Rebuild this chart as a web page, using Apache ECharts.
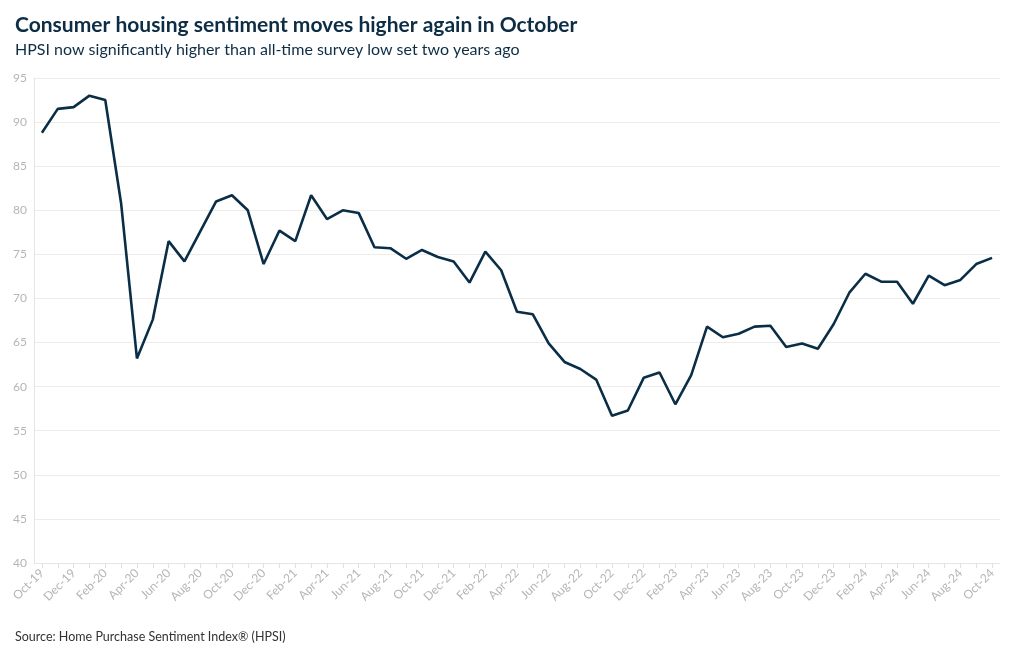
<!DOCTYPE html>
<html><head><meta charset="utf-8">
<script src="https://cdn.jsdelivr.net/npm/echarts@6/dist/echarts.min.js"></script>
<style>html,body{margin:0;padding:0;background:#fff}#c{width:1020px;height:650px}</style>
</head><body><div id="c"></div>
<script>
const categories = ["Oct-19","Nov-19","Dec-19","Jan-20","Feb-20","Mar-20","Apr-20","May-20","Jun-20","Jul-20","Aug-20","Sep-20","Oct-20","Nov-20","Dec-20","Jan-21","Feb-21","Mar-21","Apr-21","May-21","Jun-21","Jul-21","Aug-21","Sep-21","Oct-21","Nov-21","Dec-21","Jan-22","Feb-22","Mar-22","Apr-22","May-22","Jun-22","Jul-22","Aug-22","Sep-22","Oct-22","Nov-22","Dec-22","Jan-23","Feb-23","Mar-23","Apr-23","May-23","Jun-23","Jul-23","Aug-23","Sep-23","Oct-23","Nov-23","Dec-23","Jan-24","Feb-24","Mar-24","Apr-24","May-24","Jun-24","Jul-24","Aug-24","Sep-24","Oct-24"];
const hpsi = [88.8,91.5,91.7,93.0,92.5,80.8,63.2,67.6,76.5,74.2,77.6,81.0,81.7,80.0,73.9,77.7,76.5,81.7,79.0,80.0,79.7,75.8,75.7,74.5,75.5,74.7,74.2,71.8,75.3,73.2,68.5,68.2,64.9,62.8,62.0,60.8,56.7,57.3,61.0,61.6,58.0,61.3,66.8,65.6,66.0,66.8,66.9,64.5,64.9,64.3,67.1,70.7,72.8,71.9,71.9,69.4,72.6,71.5,72.1,73.9,74.6];
const titleText = "Consumer housing sentiment moves higher again in October";
const subtitleText = "HPSI now significantly higher than all-time survey low set two years ago";
const sourceText = "Source: Home Purchase Sentiment Index\u00AE (HPSI)";

const F = 'Lato, "Noto Sans", sans-serif';
const chart = echarts.init(document.getElementById('c'), null, {renderer:'canvas'});
chart.setOption({
  animation:false,
  textStyle:{fontFamily:F},
  title:[
    {text:titleText, left:10, top:10, textStyle:{fontSize:21, fontWeight:'bold', color:'#0d2d45', fontFamily:F}},
    {text:subtitleText, left:10, top:37, textStyle:{fontSize:16, fontWeight:'normal', color:'#0d2d45', fontFamily:F}},
    {text:sourceText, left:10, top:625, textStyle:{fontSize:12.5, fontWeight:'normal', color:'#333', fontFamily:F}}
  ],
  grid:{left:34, right:20, top:78, bottom:87, containLabel:false, outerBoundsMode:'none'},
  xAxis:{
    type:'category', data:categories, boundaryGap:true,
    axisLine:{show:true, lineStyle:{color:'#e6e6e6'}},
    axisTick:{show:true, interval:0, alignWithLabel:true, length:5, lineStyle:{color:'#e0e0e0'}},
    axisLabel:{interval:1, rotate:45, color:'#b5b5b5', fontSize:12, margin:8, hideOverlap:false}
  },
  yAxis:{
    type:'value', min:40, max:95, interval:5,
    axisLine:{show:true, lineStyle:{color:'#e6e6e6'}},
    axisTick:{show:false},
    axisLabel:{color:'#b5b5b5', fontSize:12, margin:7},
    splitLine:{lineStyle:{color:'#ececec'}}
  },
  series:[{type:'line', data:hpsi, symbol:'none', lineStyle:{color:'#0b2e47', width:2.6}, itemStyle:{color:'#0b2e47'}}]
});
</script></body></html>
